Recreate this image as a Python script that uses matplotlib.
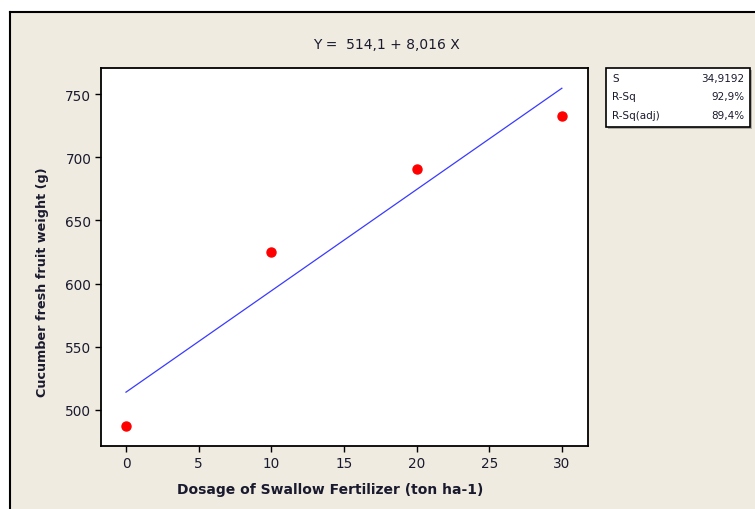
import numpy as np
import matplotlib.pyplot as plt
from matplotlib.lines import Line2D
from matplotlib.patches import Rectangle

# observed data
dosage = [0, 10, 20, 30]
weight = [487, 625, 691, 733]

# regression summary shown in the chart
intercept = 514.1
slope = 8.016
stat_names = ["S", "R-Sq", "R-Sq(adj)"]
stat_values = ["34,9192", "92,9%", "89,4%"]

x_ticks = [0, 5, 10, 15, 20, 25, 30]
y_ticks = [500, 550, 600, 650, 700, 750]

BG = "#efebe1"
TXT = "#1a1a2e"

fig = plt.figure(figsize=(7.55, 5.10), dpi=100)
fig.patch.set_facecolor("white")

# beige panel with a black frame on left and top
x0 = 9.5 / 755
y1 = 1 - 12.5 / 510
fig.patches.append(Rectangle((x0, 0), 1 - x0, y1, transform=fig.transFigure,
                             facecolor=BG, edgecolor="none", zorder=-10))
fig.lines.append(Line2D([x0, x0], [0, y1], transform=fig.transFigure,
                        color="black", lw=1.5))
fig.lines.append(Line2D([x0, 1], [y1, y1], transform=fig.transFigure,
                        color="black", lw=1.5))

ax = fig.add_axes([101 / 755, 1 - 447 / 510, 487 / 755, 378 / 510])
ax.set_facecolor("white")

xs = np.array([min(dosage), max(dosage)])
ax.plot(xs, intercept + slope * xs, color="#3a3aff", lw=0.9, zorder=2)
ax.plot(dosage, weight, "o", color="#ff0000", ms=6.5, zorder=3)

ax.set_xlim(-1.72, 31.8)
ax.set_ylim(471.5, 770.6)
ax.set_xticks(x_ticks)
ax.set_yticks(y_ticks)
ax.tick_params(direction="out", length=4, width=1, labelsize=9.8,
               colors="black", labelcolor=TXT, pad=3)
for sp in ax.spines.values():
    sp.set_linewidth(1.3)

ax.set_xlabel("Dosage of Swallow Fertilizer (ton ha-1)", fontsize=10,
              fontweight="bold", color=TXT, labelpad=8)
ax.xaxis.set_label_coords(0.47, -0.095)
ax.set_ylabel("Cucumber fresh fruit weight (g)", fontsize=9.2,
              fontweight="bold", color=TXT)
ax.yaxis.set_label_coords(-0.107, 0.437)

fig.text(386 / 755, 1 - 45 / 510, f"Y =  {intercept:.1f}".replace(".", ",")
         + f" + {slope:.3f}".replace(".", ",") + " X",
         ha="center", va="center", fontsize=10, color=TXT)

# statistics box
bx0, bx1 = 606 / 755, 750 / 755
by0, by1 = 1 - 128 / 510, 1 - 69 / 510
fig.patches.append(Rectangle((bx0 + 2 / 755, by0 - 2 / 510), bx1 - bx0, by1 - by0,
                             transform=fig.transFigure, facecolor="#b0aca4",
                             edgecolor="none", zorder=1))
fig.patches.append(Rectangle((bx0, by0), bx1 - bx0, by1 - by0,
                             transform=fig.transFigure, facecolor="white",
                             edgecolor="black", lw=1.2, zorder=2))
row_y = [79, 97, 116]
for name, val, ry in zip(stat_names, stat_values, row_y):
    fig.text(612 / 755, 1 - ry / 510, name, ha="left", va="center",
             fontsize=7.5, color=TXT, zorder=3)
    fig.text(744 / 755, 1 - ry / 510, val, ha="right", va="center",
             fontsize=7.5, color=TXT, zorder=3)

fig.savefig("out.png", dpi=100, facecolor=fig.get_facecolor())
